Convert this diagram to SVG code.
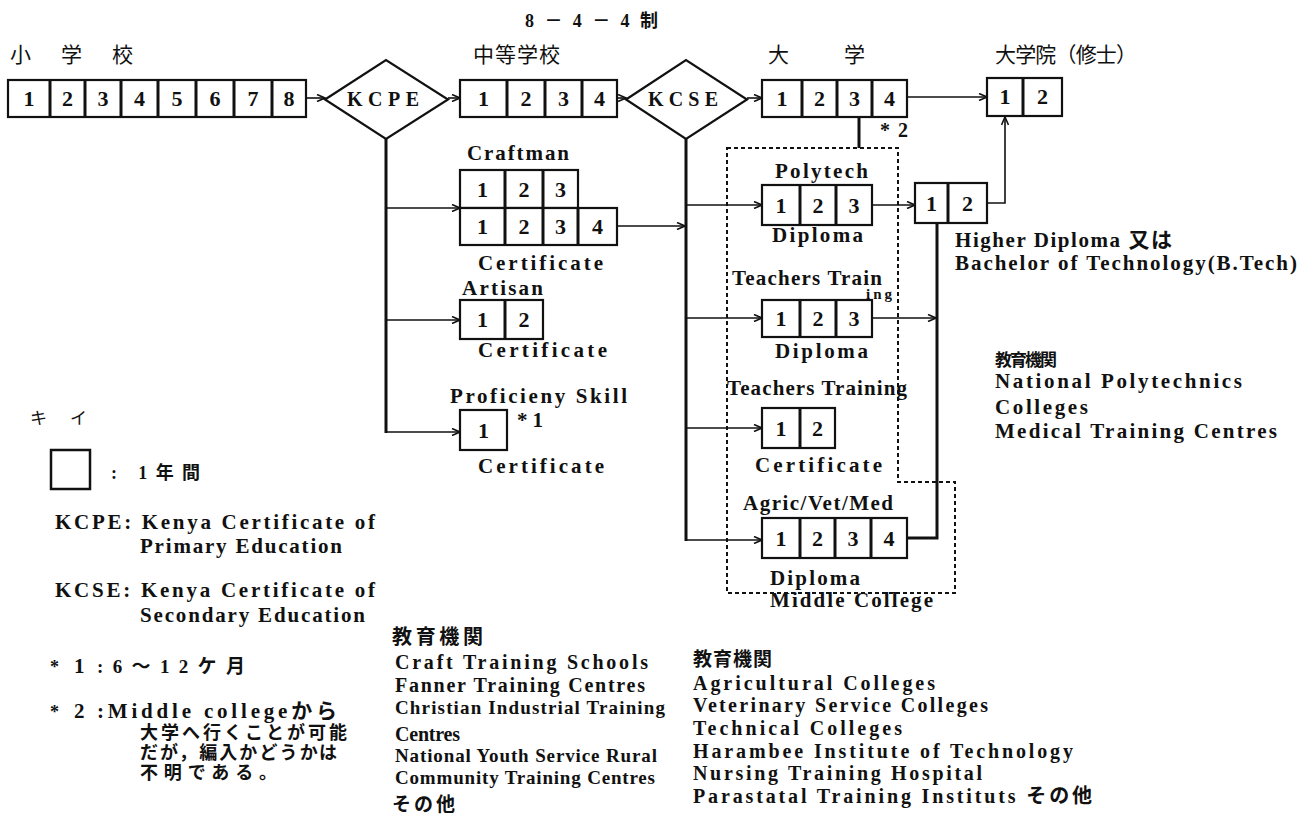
<svg xmlns="http://www.w3.org/2000/svg" width="1316" height="817" viewBox="0 0 1316 817">
<style>
.t{font-family:"Liberation Serif","Noto Sans CJK JP",serif;font-weight:bold;font-size:21px;fill:#111}
.d{font-family:"Liberation Serif",serif;font-weight:bold;font-size:22px;fill:#111;text-anchor:middle}
.j{font-family:"Noto Sans CJK JP",sans-serif;font-size:21px;fill:#111}
.c{fill:#fff;stroke:#111;stroke-width:2.2}
.dv{stroke:#111;stroke-width:3}
.ln{stroke:#111;stroke-width:1.6;fill:none}
.tk{stroke:#111;stroke-width:3;fill:none}
.dot{stroke:#111;stroke-width:2;fill:none;stroke-dasharray:4 3}
.dm{fill:#fff;stroke:#111;stroke-width:2.2}
.s20{font-size:20px}
</style>
<defs>
<marker id="ah" markerWidth="10" markerHeight="8" refX="9" refY="4" orient="auto" markerUnits="userSpaceOnUse"><path d="M1,0.5 L9,4 L1,7.5" fill="none" stroke="#111" stroke-width="1.6"/></marker>
</defs>
<rect width="1316" height="817" fill="#fff"/>

<text class="t" x="525" y="27" style="font-size:18px" textLength="133" lengthAdjust="spacing">8 － 4 － 4 制</text>
<text class="j" x="10" y="62" textLength="123" lengthAdjust="spacing">小 学 校</text>
<text class="j" x="473" y="62" textLength="87" lengthAdjust="spacing">中等学校</text>
<text class="j" x="768" y="62" textLength="97" lengthAdjust="spacing">大 学</text>
<text class="j" x="995" y="62" textLength="142" lengthAdjust="spacing">大学院（修士）</text>

<g id="connectors">
<line class="ln" x1="306" y1="98" x2="325" y2="98" marker-end="url(#ah)"/>
<line class="ln" x1="448" y1="98" x2="460" y2="98" marker-end="url(#ah)"/>
<line class="ln" x1="617" y1="98" x2="626" y2="98" marker-end="url(#ah)"/>
<line class="ln" x1="747" y1="98" x2="762" y2="98" marker-end="url(#ah)"/>
<line class="ln" x1="907" y1="97" x2="987" y2="97" marker-end="url(#ah)"/>
<line class="tk" x1="386" y1="139" x2="386" y2="433"/>
<line class="ln" x1="386" y1="208" x2="460" y2="208" marker-end="url(#ah)"/>
<line class="ln" x1="386" y1="320" x2="460" y2="320" marker-end="url(#ah)"/>
<line class="ln" x1="386" y1="432" x2="460" y2="432" marker-end="url(#ah)"/>
<line class="ln" x1="617" y1="226" x2="685" y2="226" marker-end="url(#ah)"/>
<line class="tk" x1="686" y1="139" x2="686" y2="541"/>
<line class="ln" x1="686" y1="205" x2="762" y2="205" marker-end="url(#ah)"/>
<line class="ln" x1="686" y1="318" x2="762" y2="318" marker-end="url(#ah)"/>
<line class="ln" x1="686" y1="428" x2="762" y2="428" marker-end="url(#ah)"/>
<line class="ln" x1="686" y1="540" x2="762" y2="540" marker-end="url(#ah)"/>
<line class="ln" x1="872" y1="205" x2="915" y2="205" marker-end="url(#ah)"/>
<line class="ln" x1="872" y1="318" x2="936" y2="318" marker-end="url(#ah)"/>
<polyline class="tk" points="907,538 937,538 937,223"/>
<polyline class="ln" points="987,203 1005,203 1005,117" marker-end="url(#ah)"/>
<line class="tk" x1="859" y1="117" x2="859" y2="148"/>
<polygon class="dot" points="727,148 898,148 898,482 955,482 955,593 727,593"/>
</g>

<g id="primary">
<rect class="c" x="8" y="80" width="298" height="37"/>
<path class="dv" d="M50,80V117M85,80V117M121,80V117M158,80V117M196,80V117M234,80V117M272,80V117"/>
<text class="d" x="29" y="106">1</text><text class="d" x="67.5" y="106">2</text><text class="d" x="103" y="106">3</text><text class="d" x="139.5" y="106">4</text><text class="d" x="177" y="106">5</text><text class="d" x="215" y="106">6</text><text class="d" x="253" y="106">7</text><text class="d" x="289" y="106">8</text>
</g>

<g id="kcpe">
<polygon class="dm" points="325,99.5 386,60 448,99.5 386,139"/>
<text class="t" x="383" y="106" style="font-size:20px" text-anchor="middle" textLength="72" lengthAdjust="spacing">KCPE</text>
</g>

<g id="secondary">
<rect class="c" x="460" y="80" width="157" height="37"/>
<path class="dv" d="M507,80V117M545,80V117M582,80V117"/>
<text class="d" x="483.5" y="106">1</text><text class="d" x="526" y="106">2</text><text class="d" x="563.5" y="106">3</text><text class="d" x="599.5" y="106">4</text>
</g>

<g id="kcse">
<polygon class="dm" points="626,99.5 686,60 747,99.5 686,139"/>
<text class="t" x="683" y="106" style="font-size:20px" text-anchor="middle" textLength="70" lengthAdjust="spacing">KCSE</text>
</g>

<g id="university">
<rect class="c" x="762" y="80" width="145" height="37"/>
<path class="dv" d="M802,80V117M837,80V117M872,80V117"/>
<text class="d" x="782" y="106">1</text><text class="d" x="819.5" y="106">2</text><text class="d" x="854.5" y="106">3</text><text class="d" x="889.5" y="106">4</text>
<text class="t" x="880" y="137" style="font-size:20px" textLength="28" lengthAdjust="spacing">*2</text>
</g>

<g id="graduate">
<rect class="c" x="987" y="78" width="75" height="38"/>
<path class="dv" d="M1023,78V116"/>
<text class="d" x="1005" y="104">1</text><text class="d" x="1042.5" y="104">2</text>
</g>

<g id="craftman">
<text class="t" x="467" y="160" textLength="102" lengthAdjust="spacing">Craftman</text>
<rect class="c" x="460" y="170" width="118" height="38"/>
<path class="dv" d="M505,170V208M543,170V208"/>
<rect class="c" x="460" y="208" width="157" height="37"/>
<path class="dv" d="M505,208V245M543,208V245M578,208V245"/>
<text class="d" x="482.5" y="197">1</text><text class="d" x="524" y="197">2</text><text class="d" x="560.5" y="197">3</text>
<text class="d" x="482.5" y="234">1</text><text class="d" x="524" y="234">2</text><text class="d" x="560.5" y="234">3</text><text class="d" x="597.5" y="234">4</text>
<text class="t" x="478" y="270" textLength="125" lengthAdjust="spacing">Certificate</text>
</g>

<g id="artisan">
<text class="t" x="462" y="295" textLength="81" lengthAdjust="spacing">Artisan</text>
<rect class="c" x="460" y="300" width="83" height="39"/>
<path class="dv" d="M505,300V339"/>
<text class="d" x="482.5" y="327">1</text><text class="d" x="524" y="327">2</text>
<text class="t" x="478" y="357" textLength="129" lengthAdjust="spacing">Certificate</text>
</g>

<g id="proficiency">
<text class="t" x="450" y="403" textLength="177" lengthAdjust="spacing">Proficieny Skill</text>
<rect class="c" x="460" y="410" width="47" height="40"/>
<text class="d" x="483.5" y="438">1</text>
<text class="t" x="517" y="427" textLength="26" lengthAdjust="spacing">*1</text>
<text class="t" x="478" y="473" textLength="126" lengthAdjust="spacing">Certificate</text>
</g>

<g id="polytech">
<text class="t" x="775" y="178" textLength="93" lengthAdjust="spacing">Polytech</text>
<rect class="c" x="762" y="185" width="110" height="40"/>
<path class="dv" d="M800,185V225M836,185V225"/>
<text class="d" x="781" y="213">1</text><text class="d" x="818" y="213">2</text><text class="d" x="854" y="213">3</text>
<text class="t" x="772" y="242" textLength="91" lengthAdjust="spacing">Diploma</text>
</g>

<g id="teachers-diploma">
<text class="t" x="732" y="285" textLength="150" lengthAdjust="spacing">Teachers Train</text>
<text class="t" x="866" y="299" style="font-size:15px" textLength="26" lengthAdjust="spacing">ing</text>
<rect class="c" x="762" y="300" width="110" height="37"/>
<path class="dv" d="M800,300V337M836,300V337"/>
<text class="d" x="781" y="326">1</text><text class="d" x="818" y="326">2</text><text class="d" x="854" y="326">3</text>
<text class="t" x="775" y="358" textLength="93" lengthAdjust="spacing">Diploma</text>
</g>

<g id="teachers-certificate">
<text class="t" x="727" y="395" textLength="180" lengthAdjust="spacing">Teachers Training</text>
<rect class="c" x="762" y="408" width="73" height="40"/>
<path class="dv" d="M800,408V448"/>
<text class="d" x="781" y="436">1</text><text class="d" x="817.5" y="436">2</text>
<text class="t" x="755" y="472" textLength="127" lengthAdjust="spacing">Certificate</text>
</g>

<g id="agric">
<text class="t" x="743" y="510" textLength="150" lengthAdjust="spacing">Agric/Vet/Med</text>
<rect class="c" x="762" y="518" width="145" height="40"/>
<path class="dv" d="M800,518V558M835,518V558M871,518V558"/>
<text class="d" x="781" y="546">1</text><text class="d" x="817.5" y="546">2</text><text class="d" x="853" y="546">3</text><text class="d" x="889" y="546">4</text>
<text class="t" x="770" y="585" textLength="90" lengthAdjust="spacing">Diploma</text>
<text class="t" x="770" y="607" textLength="163" lengthAdjust="spacing">Middle College</text>
</g>

<g id="higher-diploma">
<rect class="c" x="915" y="183" width="72" height="40"/>
<path class="dv" d="M948,183V223"/>
<text class="d" x="931.5" y="211">1</text><text class="d" x="967.5" y="211">2</text>
<text class="t" x="955" y="247" textLength="217" lengthAdjust="spacing">Higher Diploma 又は</text>
<text class="t" x="955" y="270" textLength="342" lengthAdjust="spacing">Bachelor of Technology(B.Tech)</text>
</g>

<g id="institutions-right">
<text class="t" x="995" y="366" style="font-size:17px" textLength="62" lengthAdjust="spacing">教育機関</text>
<text class="t" x="995" y="388" textLength="247" lengthAdjust="spacing">National Polytechnics</text>
<text class="t" x="995" y="414" textLength="93" lengthAdjust="spacing">Colleges</text>
<text class="t" x="995" y="438" textLength="282" lengthAdjust="spacing">Medical Training Centres</text>
</g>

<g id="institutions-middle">
<text class="t" x="392" y="644" style="font-size:20px" textLength="91" lengthAdjust="spacing">教育機関</text>
<text class="t s20" x="395" y="669" textLength="253" lengthAdjust="spacing">Craft Training Schools</text>
<text class="t s20" x="395" y="692" textLength="250" lengthAdjust="spacing">Fanner Training Centres</text>
<text class="t" x="395" y="714" style="font-size:19px" textLength="270" lengthAdjust="spacing">Christian Industrial Training</text>
<text class="t s20" x="395" y="741" textLength="65" lengthAdjust="spacing">Centres</text>
<text class="t" x="395" y="762" style="font-size:19px" textLength="262" lengthAdjust="spacing">National Youth Service Rural</text>
<text class="t" x="395" y="784" style="font-size:19px" textLength="260" lengthAdjust="spacing">Community Training Centres</text>
<text class="t" x="392" y="811" style="font-size:19px" textLength="63" lengthAdjust="spacing">その他</text>
</g>

<g id="institutions-bottom">
<text class="t" x="693" y="666" style="font-size:19px" textLength="79" lengthAdjust="spacing">教育機関</text>
<text class="t s20" x="693" y="690" textLength="242" lengthAdjust="spacing">Agricultural Colleges</text>
<text class="t s20" x="693" y="712" textLength="295" lengthAdjust="spacing">Veterinary Service Colleges</text>
<text class="t s20" x="693" y="735" textLength="209" lengthAdjust="spacing">Technical Colleges</text>
<text class="t s20" x="693" y="758" textLength="380" lengthAdjust="spacing">Harambee Institute of Technology</text>
<text class="t s20" x="693" y="780" textLength="289" lengthAdjust="spacing">Nursing Training Hospital</text>
<text class="t s20" x="693" y="803" textLength="399" lengthAdjust="spacing">Parastatal Training Instituts その他</text>
</g>

<g id="legend">
<text class="j" x="30" y="424" style="font-size:17px" textLength="57" lengthAdjust="spacing">キ イ</text>
<rect x="51" y="450" width="39" height="39" fill="#fff" stroke="#111" stroke-width="2.5"/>
<text class="t" x="111" y="479" style="font-size:18px" textLength="89" lengthAdjust="spacing">: 1年間</text>
<text class="t" x="55" y="529" textLength="320" lengthAdjust="spacing">KCPE: Kenya Certificate of</text>
<text class="t" x="140" y="553" textLength="202" lengthAdjust="spacing">Primary Education</text>
<text class="t" x="55" y="597" textLength="320" lengthAdjust="spacing">KCSE: Kenya Certificate of</text>
<text class="t" x="140" y="622" textLength="225" lengthAdjust="spacing">Secondary Education</text>
<text class="t" x="50" y="673" style="font-size:18px">*</text>
<text class="t" x="74" y="673">1</text>
<text class="t" x="97" y="673" style="font-size:19px" textLength="148" lengthAdjust="spacing">:6～12ケ月</text>
<text class="t" x="50" y="718" style="font-size:18px">*</text>
<text class="t" x="74" y="718">2</text>
<text class="t" x="97" y="718" textLength="240" lengthAdjust="spacing">:Middle collegeから</text>
<text class="t" x="140" y="739" style="font-size:18px" textLength="207" lengthAdjust="spacing">大学へ行くことが可能</text>
<text class="t" x="140" y="759" style="font-size:18px" textLength="197" lengthAdjust="spacing">だが，編入かどうかは</text>
<text class="t" x="140" y="779" style="font-size:18px" textLength="137" lengthAdjust="spacing">不明である。</text>
</g>
</svg>
